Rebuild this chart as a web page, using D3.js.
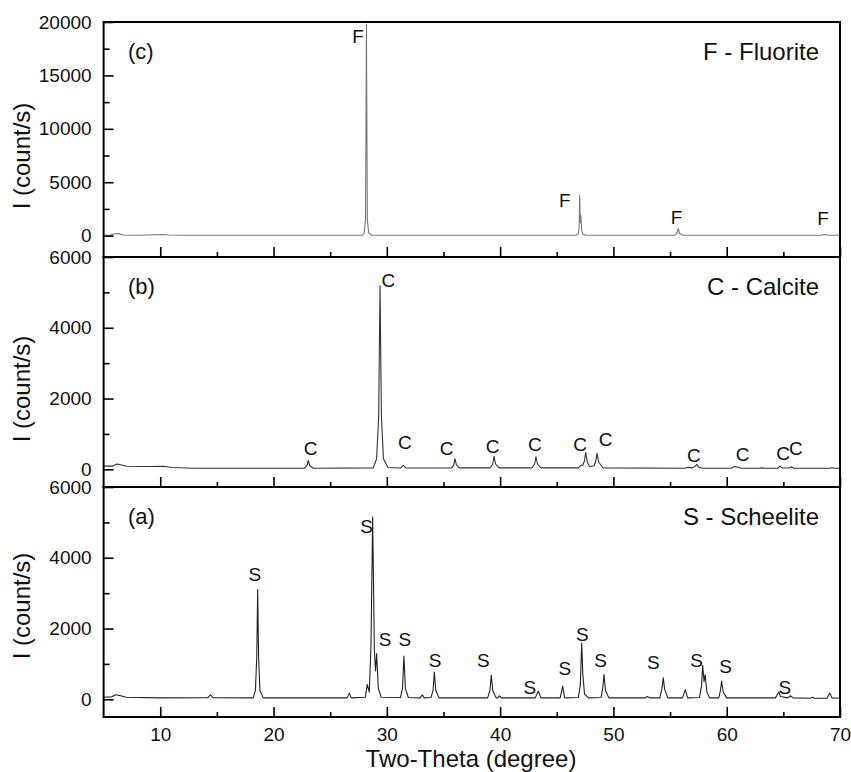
<!DOCTYPE html>
<html>
<head>
<meta charset="utf-8">
<script src="https://cdn.jsdelivr.net/npm/d3@7"></script>
<style>
  html, body { margin: 0; padding: 0; background: #fff; }
  svg { display: block; font-family: "Liberation Sans", Arial, Helvetica, sans-serif; }
</style>
</head>
<body>
<svg id="chart" width="851" height="772"></svg>
<script>
// ---------- DATA (2-theta in degrees, intensity in count/s) ----------
const fluoritePattern = [
  [5,40],[5.6,60],[6.0,170],[6.3,190],[6.7,60],[8,40],[9.5,80],[10.2,100],[10.8,60],[12,40],
  [20,30],[27.8,35],[28.0,250],[28.12,1500],[28.2,19800],[28.28,1500],[28.4,250],[28.7,35],
  [46.7,30],[46.9,150],[46.98,900],[47.02,3800],[47.08,1200],[47.13,1900],[47.2,500],[47.3,120],[47.6,30],
  [55.4,30],[55.6,200],[55.72,660],[55.85,200],[56.1,30],
  [68.4,30],[68.6,100],[68.75,90],[68.95,30],[70,30]
];
const fluoriteLabels = [[27.45,18050],[45.72,2670],[55.58,1094],[68.5,972]];

const calcitePattern = [
  [5,90],[5.8,90],[6.2,150],[6.5,130],[7,85],[9,80],[10.3,85],[11,50],[13,30],
  [22.7,30],[22.95,100],[23.07,250],[23.2,100],[23.5,30],
  [28.8,40],[29.1,300],[29.28,1500],[29.4,5190],[29.52,1500],[29.7,300],[30.1,50],
  [31.2,35],[31.45,110],[31.7,35],
  [35.7,40],[35.9,120],[36.01,300],[36.15,120],[36.4,40],
  [39.1,40],[39.35,150],[39.46,370],[39.6,150],[39.9,40],
  [42.8,40],[43.05,150],[43.16,355],[43.3,150],[43.6,40],
  [46.9,40],[47.15,120],[47.3,110],[47.45,250],[47.55,470],[47.7,200],[47.9,80],
  [48.3,100],[48.45,250],[48.55,450],[48.7,200],[49.1,40],
  [56.3,30],[56.6,60],[56.9,40],[57.2,80],[57.35,140],[57.55,60],[57.9,30],
  [60.4,30],[60.7,80],[61.0,60],[61.3,30],
  [62.9,30],[63.1,40],[63.3,30],
  [64.5,30],[64.7,90],[64.9,35],[65.5,35],[65.7,70],[65.9,30],
  [69.1,30],[69.3,45],[69.5,30],[70,30]
];
const calciteLabels = [[23.28,412],[30.13,5150],[31.6,569],[35.28,412],[39.34,457],[43.07,524],
  [47.05,524],[49.32,664],[57.11,196],[61.41,224],[64.99,252],[66.11,392]];

const scheelitePattern = [
  [5,60],[5.7,70],[6.1,130],[6.5,100],[7,60],[10,40],
  [14.2,45],[14.45,130],[14.65,45],
  [18.2,40],[18.4,250],[18.52,1200],[18.6,3100],[18.68,1200],[18.8,250],[19.1,40],
  [26.5,40],[26.69,175],[26.85,40],
  [28.1,60],[28.27,420],[28.45,200],[28.6,1500],[28.75,5150],[28.9,1400],[29.0,800],[29.1,1290],[29.25,300],[29.5,60],
  [31.2,50],[31.38,300],[31.51,1220],[31.64,300],[31.9,50],
  [32.95,40],[33.13,130],[33.3,40],
  [33.9,50],[34.08,250],[34.19,770],[34.32,250],[34.6,40],
  [38.9,40],[39.1,250],[39.22,680],[39.35,250],[39.65,40],
  [39.8,40],[39.93,100],[40.1,40],
  [43.1,40],[43.37,235],[43.6,40],
  [45.3,40],[45.52,375],[45.7,40],
  [46.9,50],[47.08,400],[47.2,1590],[47.3,700],[47.45,150],[47.8,40],
  [48.9,50],[49.05,300],[49.17,700],[49.3,250],[49.6,40],
  [52.8,40],[53.0,80],[53.2,40],
  [54.1,40],[54.28,300],[54.4,610],[54.52,280],[54.8,40],
  [56.1,40],[56.34,275],[56.55,40],
  [57.6,50],[57.78,400],[57.88,960],[58.0,500],[58.1,700],[58.25,200],[58.5,40],
  [59.3,40],[59.45,250],[59.55,515],[59.7,200],[60.0,40],
  [64.3,40],[64.5,150],[64.6,205],[64.75,80],
  [65.4,40],[65.64,100],[65.85,40],
  [67.4,30],[67.58,60],[67.75,30],
  [68.85,30],[69.1,175],[69.3,40],[70,30]
];
const scheeliteLabels = [[18.36,3344],[28.22,4704],[29.84,1513],[31.6,1513],[34.25,901],[38.51,901],
  [42.63,149],[45.72,685],[47.25,1654],[48.87,901],[53.52,854],[57.35,901],[59.91,741],[65.14,149]];

const xDomain = [5, 70];
const xMajorTicks = [10, 20, 30, 40, 50, 60, 70];
const xMinorTicks = [15, 25, 35, 45, 55, 65];
const cDomain = [-2000, 20000];
const cMajorTicks = [0, 5000, 10000, 15000, 20000];
const cMinorTicks = [2500, 7500, 12500, 17500];
const abDomain = [-500, 6000];
const abMajorTicks = [0, 2000, 4000, 6000];
const abMinorTicks = [1000, 3000, 5000];

const panelTags = ["(c)", "(b)", "(a)"];
const phaseNames = ["F - Fluorite", "C - Calcite", "S - Scheelite"];
const peakLetters = ["F", "C", "S"];
const xTitle = "Two-Theta (degree)";
const yTitle = "I (count/s)";

// ---------- LAYOUT ----------
const left = 103.6, right = 840;
const panels = [
  { top: 22,  bottom: 257, domain: cDomain, major: cMajorTicks, minor: cMinorTicks,
    data: fluoritePattern, labels: fluoriteLabels, color: "#7a7a7a", titleY: 156 },
  { top: 257, bottom: 487, domain: abDomain, major: abMajorTicks, minor: abMinorTicks,
    data: calcitePattern, labels: calciteLabels, color: "#333", titleY: 389 },
  { top: 487, bottom: 717, domain: abDomain, major: abMajorTicks, minor: abMinorTicks,
    data: scheelitePattern, labels: scheeliteLabels, color: "#222", titleY: 606 }
];

const svg = d3.select("#chart");
const x = d3.scaleLinear().domain(xDomain).range([left, right]);

panels.forEach((p, i) => {
  const y = d3.scaleLinear().domain(p.domain).range([p.bottom, p.top]);
  const g = svg.append("g");

  // pattern line
  const line = d3.line().x(d => x(d[0])).y(d => y(d[1]));
  g.append("path").datum(p.data)
    .attr("d", line).attr("fill", "none")
    .attr("stroke", p.color).attr("stroke-width", 1.1)
    .attr("stroke-linejoin", "round");

  // y axis major
  const yAx = g.append("g").attr("transform", `translate(${left},0)`)
    .call(d3.axisLeft(y).tickValues(p.major).tickSize(-10).tickPadding(12)
      .tickFormat(d3.format("d")));
  yAx.select(".domain").remove();
  yAx.selectAll(".tick line").attr("stroke", "#000").attr("stroke-width", 1.6);
  yAx.selectAll(".tick text").attr("font-size", 19).attr("fill", "#111")
    .attr("font-family", "Liberation Sans, Arial, sans-serif");
  // y axis minor
  const yMin = g.append("g").attr("transform", `translate(${left},0)`)
    .call(d3.axisLeft(y).tickValues(p.minor).tickSize(-6).tickFormat(""));
  yMin.select(".domain").remove();
  yMin.selectAll(".tick line").attr("stroke", "#000").attr("stroke-width", 1.6);

  // x axis major
  const xAx = g.append("g").attr("transform", `translate(0,${p.bottom})`)
    .call(d3.axisBottom(x).tickValues(xMajorTicks).tickSize(-10).tickPadding(11)
      .tickFormat(i === 2 ? d3.format("d") : ""));
  xAx.select(".domain").remove();
  xAx.selectAll(".tick line").attr("stroke", "#000").attr("stroke-width", 1.6);
  xAx.selectAll(".tick text").attr("font-size", 19).attr("fill", "#111")
    .attr("font-family", "Liberation Sans, Arial, sans-serif");
  const xMin = g.append("g").attr("transform", `translate(0,${p.bottom})`)
    .call(d3.axisBottom(x).tickValues(xMinorTicks).tickSize(-5).tickFormat(""));
  xMin.select(".domain").remove();
  xMin.selectAll(".tick line").attr("stroke", "#000").attr("stroke-width", 1.6);

  // frame
  g.append("rect").attr("x", left).attr("y", p.top)
    .attr("width", right - left).attr("height", p.bottom - p.top)
    .attr("fill", "none").attr("stroke", "#000").attr("stroke-width", 2);

  // peak labels
  g.selectAll("text.peak").data(p.labels).join("text")
    .attr("class", "peak")
    .attr("x", d => x(d[0])).attr("y", d => y(d[1]))
    .attr("text-anchor", "middle").attr("font-size", 19).attr("fill", "#111")
    .text(peakLetters[i]);

  // panel tag
  g.append("text").attr("x", 128).attr("y", p.top + 37)
    .attr("font-size", 22).attr("fill", "#111").text(panelTags[i]);

  // phase name
  g.append("text").attr("x", 819).attr("y", p.top + 38)
    .attr("text-anchor", "end").attr("font-size", 24).attr("fill", "#111")
    .text(phaseNames[i]);

  // y title
  g.append("text").attr("transform", `translate(30,${p.titleY}) rotate(-90)`)
    .attr("text-anchor", "middle").attr("font-size", 24).attr("fill", "#111")
    .text(yTitle);
});

svg.append("text").attr("x", 471).attr("y", 767)
  .attr("text-anchor", "middle").attr("font-size", 24).attr("fill", "#111")
  .text(xTitle);
</script>
</body>
</html>
